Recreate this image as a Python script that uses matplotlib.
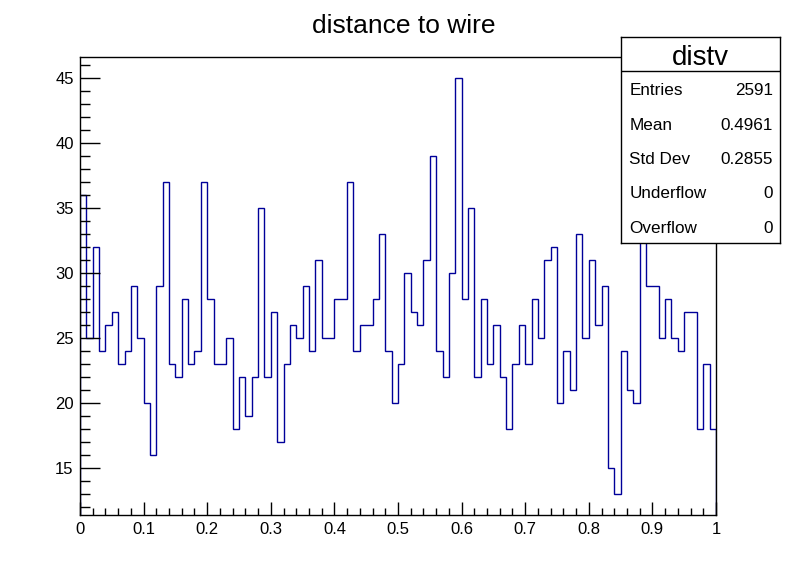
import matplotlib
matplotlib.use("Agg")
import matplotlib.pyplot as plt
from matplotlib.ticker import MultipleLocator, FuncFormatter
import numpy as np

plt.rcParams["font.family"] = ["Liberation Sans", "DejaVu Sans"]

# bin contents of "distv", 100 bins between 0 and 1
COUNTS = [
    36, 25, 32, 24, 26, 27, 23, 24, 29, 25,
    20, 16, 29, 37, 23, 22, 28, 23, 24, 37,
    28, 23, 23, 25, 18, 22, 19, 22, 35, 22,
    27, 17, 23, 26, 25, 29, 24, 31, 25, 25,
    28, 28, 37, 24, 26, 26, 28, 33, 24, 20,
    23, 30, 27, 26, 31, 39, 24, 22, 30, 45,
    28, 35, 22, 28, 23, 26, 22, 18, 23, 26,
    23, 28, 25, 31, 32, 20, 24, 21, 33, 25,
    31, 26, 29, 15, 13, 24, 21, 20, 36, 29,
    29, 25, 28, 25, 24, 27, 27, 18, 23, 18,
]
X_MIN, X_MAX, N_BINS = 0.0, 1.0, 100

TITLE = "distance to wire"
STATS_NAME = "distv"
STATS_LABELS = ["Entries", "Mean", "Std Dev", "Underflow", "Overflow"]
STATS_VALUES = ["2591", "0.4961", "0.2855", "0", "0"]

LINE_COLOR = "#000099"


def root_range(counts, margin=0.05):
    lo, hi = min(counts), max(counts)
    d = (hi - lo) * margin
    return lo - d, hi + d


def draw_stats(fig):
    W, H = 796, 572
    x0, x1, y0, y1 = 621, 780, 37, 243
    sax = fig.add_axes([x0 / W, 1 - y1 / H, (x1 - x0) / W, (y1 - y0) / H])
    sax.set_xlim(x0, x1)
    sax.set_ylim(y1, y0)
    sax.set_xticks([])
    sax.set_yticks([])
    sax.set_facecolor("white")
    for sp in sax.spines.values():
        sp.set_linewidth(1.0)
        sp.set_color("black")
    sax.axhline(71.5, color="black", linewidth=1.0)
    sax.text((x0 + x1) / 2, 65.3, STATS_NAME, ha="center", va="baseline", fontsize=20)
    rows_y = [95.5, 129.8, 164.1, 198.4, 232.7]
    for yy, lab, val in zip(rows_y, STATS_LABELS, STATS_VALUES):
        sax.text(629.3, yy, lab, ha="left", va="baseline", fontsize=12.3)
        sax.text(772.7, yy, val, ha="right", va="baseline", fontsize=12.3)


def main():
    W, H = 796, 572
    fig = plt.figure(figsize=(W / 100, H / 100), dpi=100)
    fig.set_facecolor("white")

    left, right, top, bottom = 80, 716, 57, 515
    ax = fig.add_axes([left / W, 1 - bottom / H, (right - left) / W, (bottom - top) / H])

    edges = np.linspace(X_MIN, X_MAX, N_BINS + 1)
    ymin, ymax = root_range(COUNTS)
    ax.stairs(COUNTS, edges, baseline=ymin, color=LINE_COLOR, linewidth=1.0)

    ax.set_xlim(X_MIN, X_MAX)
    ax.set_ylim(ymin, ymax)

    ax.xaxis.set_major_locator(MultipleLocator(0.1))
    ax.xaxis.set_minor_locator(MultipleLocator(0.02))
    ax.yaxis.set_major_locator(MultipleLocator(5))
    ax.yaxis.set_minor_locator(MultipleLocator(1))
    ax.xaxis.set_major_formatter(FuncFormatter(lambda v, p: f"{v:g}"))

    ax.tick_params(axis="x", which="major", direction="in", length=9.4, width=1.0,
                   labelsize=12, pad=5)
    ax.tick_params(axis="x", which="minor", direction="in", length=5, width=1.0)
    ax.tick_params(axis="y", which="major", direction="in", length=14.4, width=1.0,
                   labelsize=12, pad=4.5)
    ax.tick_params(axis="y", which="minor", direction="in", length=7.2, width=1.0)
    for sp in ax.spines.values():
        sp.set_linewidth(1.0)

    fig.text(404 / W, 1 - 33 / H, TITLE, ha="center", va="baseline", fontsize=19)

    draw_stats(fig)

    fig.savefig("out.png", dpi=100)
    plt.close(fig)


if __name__ == "__main__":
    main()
